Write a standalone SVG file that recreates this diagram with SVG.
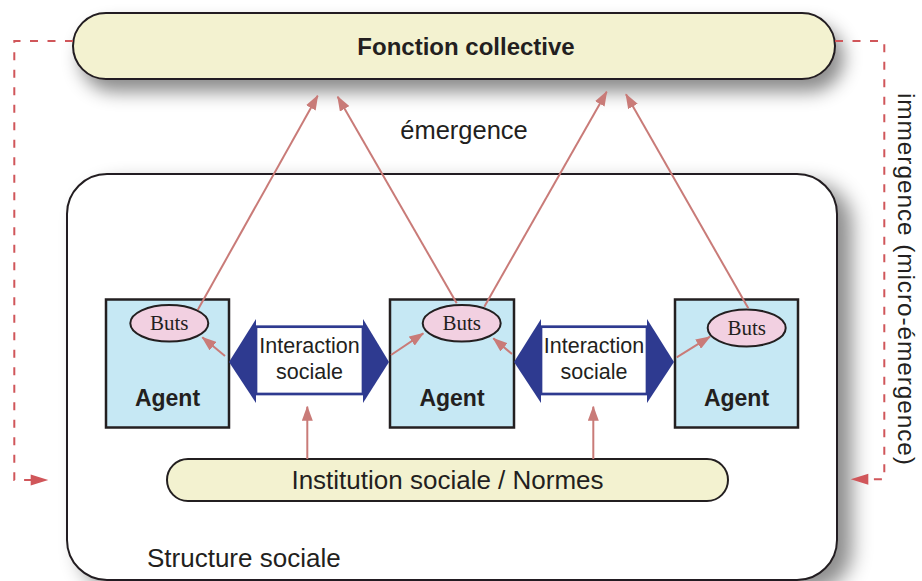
<svg xmlns="http://www.w3.org/2000/svg" width="922" height="581" viewBox="0 0 922 581">
<style>
.t{font-family:"Liberation Sans",Arial,sans-serif;fill:#231f20}
.b{font-weight:bold}
.serif{font-family:"Liberation Serif","Times New Roman",serif;fill:#231f20}
.pill{fill:#f3f2d0;stroke:#231f20;stroke-width:2}
.agent{fill:#c6e8f4;stroke:#231f20;stroke-width:2.5}
.buts{fill:#f2d0e1;stroke:#231f20;stroke-width:2}
.blue{fill:#2e3a90}
.irect{fill:#fff;stroke:#2e3a90;stroke-width:2.7}
.arr{stroke:#c97b78;stroke-width:2;fill:none;marker-end:url(#ah)}
.dash{stroke:#d0565a;stroke-width:2;fill:none;stroke-dasharray:8 9.5}
</style>
<defs>
<filter id="sh" x="-10%" y="-30%" width="130%" height="180%">
<feDropShadow dx="8" dy="12" stdDeviation="9" flood-color="#000" flood-opacity="0.45"/>
</filter>
<filter id="sh2" x="-10%" y="-10%" width="130%" height="130%">
<feDropShadow dx="14" dy="10" stdDeviation="10" flood-color="#000" flood-opacity="0.45"/>
</filter>
<marker id="ah" markerUnits="userSpaceOnUse" markerWidth="15" markerHeight="11" refX="14" refY="5.5" orient="auto">
<path d="M0,0 L15,5.5 L0,11 z" fill="#c97b78"/>
</marker>
</defs>

<g id="structure">
<rect x="67" y="174" width="770" height="406" rx="40" fill="#fff" stroke="#231f20" stroke-width="2" filter="url(#sh2)"/>
<text class="t" x="147" y="567" font-size="26">Structure sociale</text>
</g>

<g id="fonction">
<rect class="pill" x="73" y="13" width="762" height="66" rx="33" filter="url(#sh)"/>
<text class="t b" x="466" y="55" font-size="24" text-anchor="middle">Fonction collective</text>
</g>

<text id="emergence" class="t" x="464" y="139" font-size="25.5" text-anchor="middle">émergence</text>

<text id="immergence" class="t" font-size="24.5" textLength="372" lengthAdjust="spacing" transform="translate(898,93) rotate(90)">immergence (micro-émergence)</text>

<g id="agent1">
<rect class="agent" x="106" y="299.5" width="123" height="128"/>
<ellipse class="buts" cx="169.3" cy="323.3" rx="39" ry="18.3"/>
<text class="serif" x="169.3" y="330" font-size="21" text-anchor="middle">Buts</text>
<text class="t b" x="167.5" y="405.5" font-size="23" text-anchor="middle">Agent</text>
</g>
<g id="agent2">
<rect class="agent" x="390" y="299.5" width="124" height="128"/>
<ellipse class="buts" cx="461.7" cy="323.3" rx="39" ry="18.3"/>
<text class="serif" x="461.7" y="330" font-size="21" text-anchor="middle">Buts</text>
<text class="t b" x="452" y="405.5" font-size="23" text-anchor="middle">Agent</text>
</g>
<g id="agent3">
<rect class="agent" x="675" y="299.5" width="123" height="128"/>
<ellipse class="buts" cx="746.7" cy="328" rx="39" ry="18.5"/>
<text class="serif" x="746.7" y="334.5" font-size="21" text-anchor="middle">Buts</text>
<text class="t b" x="736.5" y="405.5" font-size="23" text-anchor="middle">Agent</text>
</g>

<g id="interaction1">
<rect class="irect" x="256" y="326.7" width="107" height="67.3"/>
<polygon class="blue" points="229,362 256,319 256,403"/>
<polygon class="blue" points="363,319 389,362 363,403"/>
<text class="t" x="309.5" y="353.3" font-size="21.5" text-anchor="middle">Interaction</text>
<text class="t" x="309.5" y="379.3" font-size="21.5" text-anchor="middle">sociale</text>
</g>
<g id="interaction2">
<rect class="irect" x="541" y="326.7" width="106" height="67.3"/>
<polygon class="blue" points="514,362 541,319 541,403"/>
<polygon class="blue" points="647,319 674,362 647,403"/>
<text class="t" x="594" y="353.3" font-size="21.5" text-anchor="middle">Interaction</text>
<text class="t" x="594" y="379.3" font-size="21.5" text-anchor="middle">sociale</text>
</g>

<g id="institution">
<rect class="pill" x="167" y="459" width="561" height="42" rx="21"/>
<text class="t" x="447.5" y="489.3" font-size="26" text-anchor="middle">Institution sociale / Normes</text>
</g>

<g id="connectors">
<line class="arr" x1="197.7" y1="310" x2="317.7" y2="95.7"/>
<line class="arr" x1="456.7" y1="303.3" x2="337.7" y2="96.7"/>
<line class="arr" x1="484.3" y1="306.7" x2="606.7" y2="91.7"/>
<line class="arr" x1="748.3" y1="308.3" x2="626" y2="94.3"/>
<line class="arr" x1="225" y1="356" x2="202.3" y2="337.3"/>
<line class="arr" x1="391" y1="355" x2="423.3" y2="333.3"/>
<line class="arr" x1="512" y1="354" x2="493.3" y2="338.3"/>
<line class="arr" x1="676.7" y1="357.3" x2="710" y2="336.7"/>
<line class="arr" x1="307.3" y1="459" x2="307.3" y2="406.7"/>
<line class="arr" x1="593.3" y1="459" x2="593.3" y2="406.7"/>
<path class="dash" d="M73,41 H14.3 V480 H31"/>
<polygon points="30.7,474.5 48.3,480 30.7,485.5" fill="#d0565a"/>
<path class="dash" d="M835,41 H884.3 V479.3 H868"/>
<polygon points="868.3,473.8 850.7,479.3 868.3,484.8" fill="#d0565a"/>
</g>
</svg>
